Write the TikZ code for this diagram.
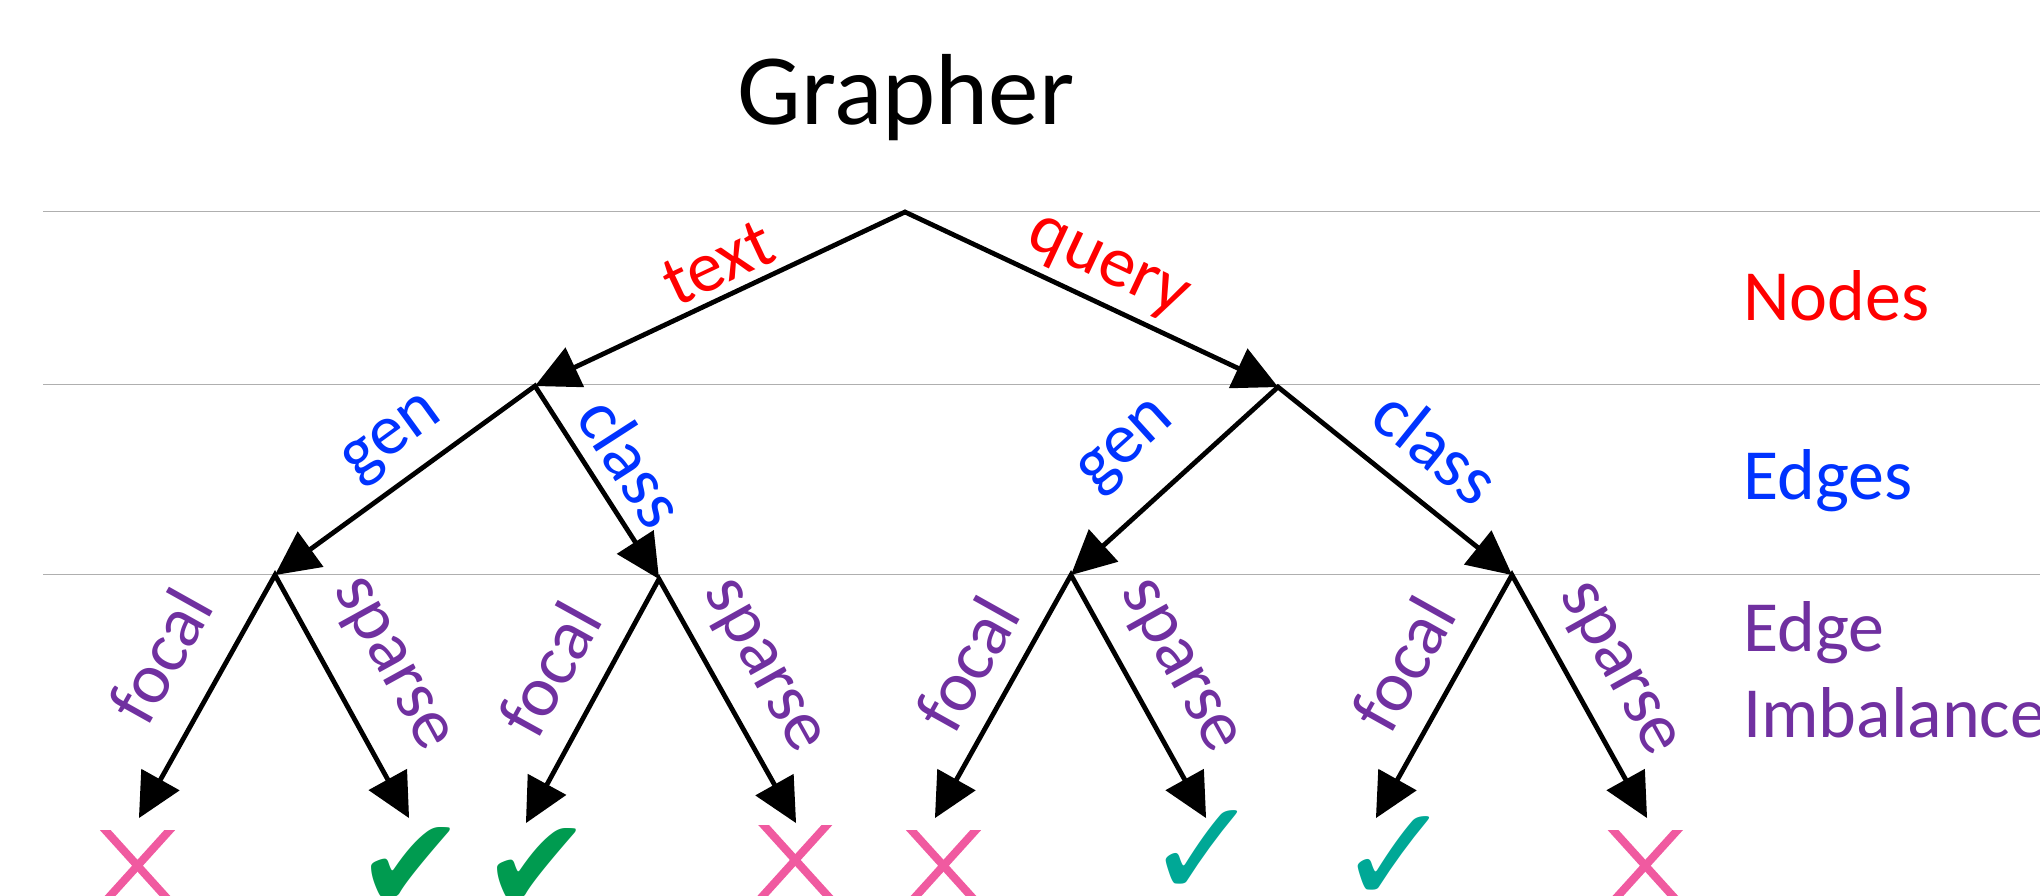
\documentclass[tikz,border=0pt]{standalone}
\usepackage{fontspec}
\setmainfont{Carlito}
\newfontfamily\symfont{DejaVu Sans}
\usetikzlibrary{calc}

\definecolor{nodered}{RGB}{255,0,0}
\definecolor{edgeblue}{RGB}{0,51,255}
\definecolor{imbpurple}{HTML}{7030A0}
\definecolor{crosspink}{RGB}{240,90,160}
\definecolor{tickgreen}{RGB}{0,155,80}
\definecolor{tickteal}{RGB}{0,168,150}
\definecolor{rulegray}{RGB}{175,175,175}

\tikzset{
  hrule/.style={draw=rulegray, line width=1.8pt},
  fork/.style={draw=black, line width=4.8pt, line join=miter},
  lbl/.style={font=\fontsize{72}{86}\selectfont, inner sep=0pt, anchor=center},
  nlbl/.style={lbl, text=nodered},
  elbl/.style={lbl, text=edgeblue},
  ilbl/.style={lbl, text=imbpurple},
  sidelbl/.style={font=\fontsize{72}{86}\selectfont, inner sep=0pt, anchor=base west},
  xstroke/.style={draw=crosspink, line width=8pt},
  boldtick/.style={font=\symfont\fontsize{130}{130}\selectfont, text=tickgreen, inner sep=0pt, anchor=north},
  thintick/.style={font=\symfont\fontsize{138}{138}\selectfont, text=tickteal, inner sep=0pt, anchor=center}
}

% filled arrowhead with its tip on #2, pointing away from #1
\newcommand\headat[2]{%
  \fill ($(#2)$) -- ($(#2)!44pt!(#1)!22pt!90:(#2)$) -- ($(#2)!44pt!(#1)!22pt!-90:(#2)$) -- cycle;}

% parent #1 with children #2 and #3: two connectors meeting at the parent
\newcommand\forkto[3]{%
  \draw[fork] ($(#2)!36pt!(#1)$) -- (#1) -- ($(#3)!36pt!(#1)$);
  \headat{#1}{#2}
  \headat{#1}{#3}}

% a pink cross centred on a named coordinate
\newcommand\pinkcross[1]{%
  \begin{scope}
    \clip ($(#1)+(-45,-35)$) rectangle ($(#1)+(45,35)$);
    \draw[xstroke] ($(#1)+(-38,-42)$) -- ($(#1)+(38,42)$);
    \draw[xstroke] ($(#1)+(38,-42)$) -- ($(#1)+(-38,42)$);
  \end{scope}}

\begin{document}
\begin{tikzpicture}[x=1pt, y=-1pt]
  \useasboundingbox (0,0) rectangle (2040,896);

  % level separators
  \coordinate (r1a) at (43,211.5);  \coordinate (r1b) at (2040,211.5);
  \coordinate (r2a) at (43,384.5);  \coordinate (r2b) at (2040,384.5);
  \coordinate (r3a) at (43,574.5);  \coordinate (r3b) at (2040,574.5);
  \draw[hrule] (r1a) -- (r1b);
  \draw[hrule] (r2a) -- (r2b);
  \draw[hrule] (r3a) -- (r3b);

  % title
  \node[font=\fontsize{101}{121}\selectfont, inner sep=0pt, anchor=base] (title) at (906,125) {Grapher};

  % tree points
  \coordinate (root) at (905,212);
  \coordinate (L) at (535,386);
  \coordinate (R) at (1278,387);
  \coordinate (LL) at (275,575);
  \coordinate (LR) at (659,579);
  \coordinate (RL) at (1071,575);
  \coordinate (RR) at (1512,575);
  \coordinate (LLf) at (139,818);
  \coordinate (LLs) at (409,818);
  \coordinate (LRf) at (526,823);
  \coordinate (LRs) at (796,823);
  \coordinate (RLf) at (935,818);
  \coordinate (RLs) at (1206,818);
  \coordinate (RRf) at (1376,818);
  \coordinate (RRs) at (1647,818);

  % node type
  \forkto{root}{L}{R}
  \node[nlbl, rotate=25.2] (tText) at (718,263) {text};
  \node[nlbl, rotate=-25.1] (tQuery) at (1106.7,270) {query};

  % edge type
  \forkto{L}{LL}{LR}
  \forkto{R}{RL}{RR}
  \node[elbl, rotate=36.0] (tGenL) at (394,441) {gen};
  \node[elbl, rotate=-57.2] (tClassL) at (632.5,461.7) {class};
  \node[elbl, rotate=42.2] (tGenR) at (1128.5,448.3) {gen};
  \node[elbl, rotate=-38.8] (tClassR) at (1436.6,446.7) {class};

  % edge imbalance
  \forkto{LL}{LLf}{LLs}
  \forkto{LR}{LRf}{LRs}
  \forkto{RL}{RLf}{RLs}
  \forkto{RR}{RRf}{RRs}
  \node[ilbl, rotate=60.8] (tFocLL) at (160,655.8) {focal};
  \node[ilbl, rotate=-61.1] (tSpaLL) at (389,665.8) {sparse};
  \node[ilbl, rotate=61.1] (tFocLR) at (549,669) {focal};
  \node[ilbl, rotate=-60.8] (tSpaLR) at (760,668.3) {sparse};
  \node[ilbl, rotate=60.8] (tFocRL) at (966.7,663.3) {focal};
  \node[ilbl, rotate=-60.9] (tSpaRL) at (1176.7,668.3) {sparse};
  \node[ilbl, rotate=60.8] (tFocRR) at (1403.3,663.3) {focal};
  \node[ilbl, rotate=-60.9] (tSpaRR) at (1615.8,670.8) {sparse};

  % outcomes
  \coordinate (oLLf) at (137.5,865.7);
  \coordinate (oLRs) at (795.3,860);
  \coordinate (oRLf) at (943.5,865.7);
  \coordinate (oRRs) at (1645.3,865.7);
  \pinkcross{oLLf}
  \pinkcross{oLRs}
  \pinkcross{oRLf}
  \pinkcross{oRRs}
  \node[boldtick] (oLLs) at (411,827) {✔};
  \node[boldtick] (oLRf) at (536.5,828) {✔};
  \node[thintick] (oRLs) at (1203,854.5) {✓};
  \node[thintick] (oRRf) at (1395,860.5) {✓};

  % level legend
  \node[sidelbl, text=nodered] (kNodes) at (1743,320) {Nodes};
  \node[sidelbl, text=edgeblue] (kEdges) at (1743,499) {Edges};
  \node[sidelbl, text=imbpurple] (kEdge) at (1743,651) {Edge};
  \node[sidelbl, text=imbpurple] (kImb) at (1743,737) {Imbalance};
\end{tikzpicture}
\end{document}
